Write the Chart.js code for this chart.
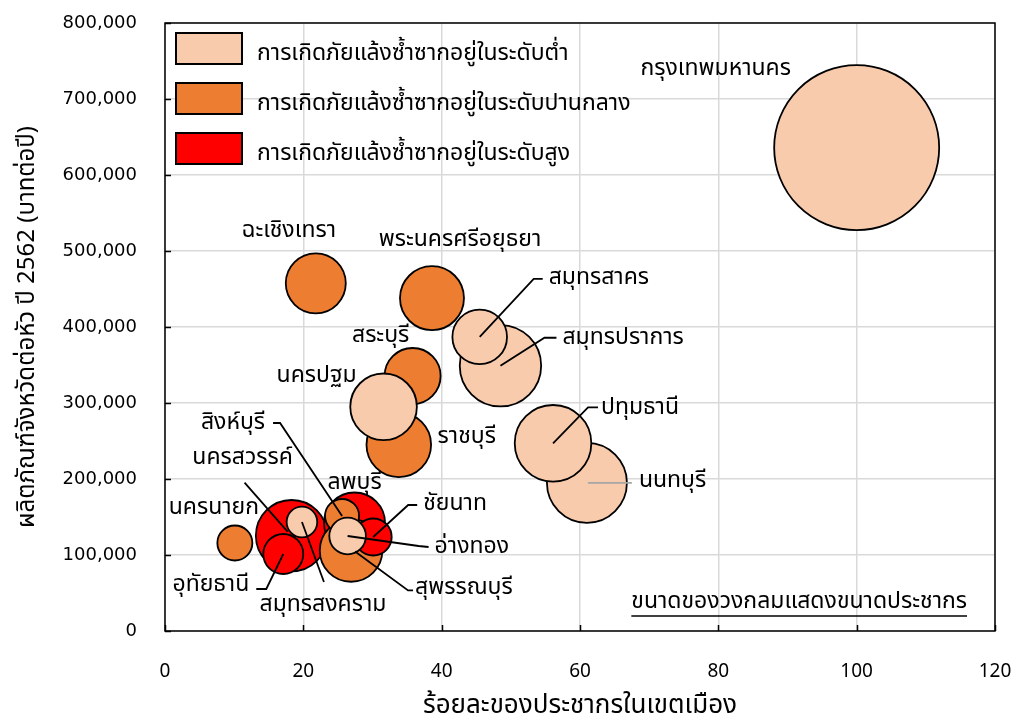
<!DOCTYPE html>
<html lang="th">
<head>
<meta charset="utf-8">
<title>ผลิตภัณฑ์จังหวัดต่อหัวและร้อยละของประชากรในเขตเมือง</title>
<script src="https://cdn.jsdelivr.net/npm/chart.js@4.4.1/dist/chart.umd.min.js"></script>
<style>
  html, body { margin: 0; padding: 0; background: #ffffff; }
  #wrap { width: 1018px; height: 724px; }
</style>
</head>
<body>
<div id="wrap"><canvas id="c" width="1018" height="724"></canvas></div>
<script>
// Provinces, in drawing order (later entries sit on top)
const provinces = [
  'นครสวรรค์', 'ลพบุรี', 'สุพรรณบุรี', 'สิงห์บุรี', 'ชัยนาท', 'อุทัยธานี', 'นครนายก',
  'ฉะเชิงเทรา', 'พระนครศรีอยุธยา', 'สระบุรี', 'ราชบุรี',
  'กรุงเทพมหานคร', 'สมุทรปราการ', 'สมุทรสาคร', 'นนทบุรี', 'ปทุมธานี', 'นครปฐม',
  'อ่างทอง', 'สมุทรสงคราม'
];
// Share of population living in urban areas (%)
const urbanPct = [
  18.3, 27.4, 26.9, 25.6, 30.1, 17.1, 10.1,
  21.8, 38.6, 35.8, 33.8,
  100.0, 48.5, 45.5, 61.0, 56.1, 31.6,
  26.4, 19.8
];
// Gross provincial product per capita, 2019 (baht per year)
const gppPerCapita = [
  125400, 142100, 106000, 151300, 123700, 101300, 115800,
  457500, 438000, 335500, 245000,
  636000, 349000, 387000, 195000, 247000, 295000,
  125000, 143400
];
// Population (thousand persons) -> bubble area
const population = [
  1062, 775, 816, 241, 285, 333, 255,
  750, 853, 653, 869,
  5670, 1380, 621, 1333, 1222, 924,
  279, 195
];
// Recurring drought level: 0 = low, 1 = medium, 2 = high
const droughtLevel = [
  2, 2, 1, 1, 2, 2, 1,
  1, 1, 1, 1,
  0, 0, 0, 0, 0, 0,
  0, 0
];
const levelNames = [
  'การเกิดภัยแล้งซ้ำซากอยู่ในระดับต่ำ',
  'การเกิดภัยแล้งซ้ำซากอยู่ในระดับปานกลาง',
  'การเกิดภัยแล้งซ้ำซากอยู่ในระดับสูง'
];
const xTicks = [0, 20, 40, 60, 80, 100, 120];
const yTicks = [0, 100000, 200000, 300000, 400000, 500000, 600000, 700000, 800000];

// ---- styling ----
const levelColors = ['#F8CBAD', '#ED7D31', '#FF0000'];
const FONT = '"Noto Sans Thai", "Leelawadee UI", Tahoma, "Noto Sans", "DejaVu Sans", sans-serif';
const LABEL_SIZE = 23;
const MAX_RADIUS = 82.5;   // pixel radius of the largest bubble
const maxPop = Math.max(...population);

// Label placement relative to each bubble centre (pixels); leader = polyline
const labelLayout = {
  'กรุงเทพมหานคร':   { dx: -141, dy: -77, align: 'center' },
  'ฉะเชิงเทรา':       { dx: -27, dy: -51, align: 'center' },
  'พระนครศรีอยุธยา': { dx: 28, dy: -57, align: 'center' },
  'สมุทรสาคร':       { dx: 69, dy: -58, align: 'left', leader: [[0, 0], [54, -58], [63, -58]] },
  'สมุทรปราการ':     { dx: 62, dy: -26, align: 'left', leader: [[0, 0], [44, -28], [56, -28]] },
  'สระบุรี':          { dx: -32, dy: -39, align: 'center' },
  'นครปฐม':          { dx: -67, dy: -29, align: 'center' },
  'ราชบุรี':          { dx: 68, dy: -6, align: 'center' },
  'ปทุมธานี':         { dx: 48, dy: -34, align: 'left', leader: [[0, 0], [35, -36], [45, -36]] },
  'นนทบุรี':          { dx: 52, dy: 0, align: 'left', leader: [[1, 0], [45, 0]], leaderColor: '#a6a6a6' },
  'สิงห์บุรี':         { dx: -77, dy: -92, align: 'right', leader: [[-69, -93], [-62, -93], [0, 0]] },
  'นครสวรรค์':       { dx: -49, dy: -76, align: 'center', leader: [[-47, -53], [-4, -4]] },
  'ลพบุรี':           { dx: 0, dy: -39, align: 'center' },
  'นครนายก':         { dx: -21, dy: -34, align: 'center' },
  'ชัยนาท':          { dx: 50, dy: -32, align: 'left', leader: [[0, 0], [35, -32], [44, -32]] },
  'อ่างทอง':          { dx: 87, dy: 12, align: 'left', leader: [[0, 0], [71, 10], [81, 11]] },
  'อุทัยธานี':         { dx: -34, dy: 32, align: 'right', leader: [[-27, 35], [-17, 35], [0, 0]] },
  'สมุทรสงคราม':     { dx: 21, dy: 84, align: 'center', leader: [[0, 0], [22, 60]] },
  'สุพรรณบุรี':        { dx: 64, dy: 39, align: 'left', leader: [[4, 1], [57, 40], [62, 40]] }
};

const points = provinces.map((name, i) => ({
  x: urbanPct[i],
  y: gppPerCapita[i],
  r: MAX_RADIUS * Math.sqrt(population[i] / maxPop),
  name
}));
const pointColors = droughtLevel.map(l => levelColors[l]);

// Frame, inward tick marks, province labels, legend and note
const decorations = {
  id: 'decorations',
  afterDatasetsDraw(chart) {
    const { ctx, chartArea: a, scales: { x, y } } = chart;
    ctx.save();

    // plot frame
    ctx.strokeStyle = '#000';
    ctx.lineWidth = 1.5;
    ctx.strokeRect(a.left, a.top, a.right - a.left, a.bottom - a.top);

    // tick marks pointing into the plot
    ctx.beginPath();
    yTicks.forEach(v => {
      const py = Math.round(y.getPixelForValue(v)) + 0.5;
      ctx.moveTo(a.left, py); ctx.lineTo(a.left + 6, py);
    });
    xTicks.forEach(v => {
      const px = Math.round(x.getPixelForValue(v)) + 0.5;
      ctx.moveTo(px, a.bottom); ctx.lineTo(px, a.bottom - 6);
    });
    ctx.stroke();

    // province labels with leader lines
    ctx.font = `${LABEL_SIZE}px ${FONT}`;
    ctx.textBaseline = 'middle';
    points.forEach(p => {
      const lay = labelLayout[p.name];
      if (!lay) return;
      const cx = x.getPixelForValue(p.x);
      const cy = y.getPixelForValue(p.y);
      if (lay.leader) {
        ctx.strokeStyle = lay.leaderColor || '#000';
        ctx.lineWidth = 1.8;
        ctx.beginPath();
        lay.leader.forEach(([lx, ly], k) => {
          if (k === 0) ctx.moveTo(cx + lx, cy + ly); else ctx.lineTo(cx + lx, cy + ly);
        });
        ctx.stroke();
      }
      ctx.fillStyle = '#000';
      ctx.textAlign = lay.align;
      ctx.fillText(p.name, cx + lay.dx, cy + lay.dy);
    });

    // legend
    ctx.textAlign = 'left';
    ctx.font = `${LABEL_SIZE}px ${FONT}`;
    levelNames.forEach((label, i) => {
      const bx = a.left + 11, by = a.top + 10 + i * 50;
      ctx.fillStyle = levelColors[i];
      ctx.fillRect(bx, by, 66, 31);
      ctx.strokeStyle = '#000';
      ctx.lineWidth = 2;
      ctx.strokeRect(bx, by, 66, 31);
      ctx.fillStyle = '#000';
      ctx.fillText(label, a.left + 92, by + 22);
    });

    // note on bubble size (underlined)
    const note = 'ขนาดของวงกลมแสดงขนาดประชากร';
    ctx.font = `${LABEL_SIZE}px ${FONT}`;
    ctx.textAlign = 'right';
    const nx = a.right - 28, ny = a.bottom - 28;
    ctx.fillText(note, nx, ny);
    const w = ctx.measureText(note).width;
    ctx.lineWidth = 1.3;
    ctx.beginPath();
    ctx.moveTo(nx - w, ny + 13); ctx.lineTo(nx, ny + 13);
    ctx.stroke();

    ctx.restore();
  }
};

new Chart(document.getElementById('c'), {
  type: 'bubble',
  data: {
    datasets: [{
      data: points,
      backgroundColor: pointColors,
      borderColor: '#000',
      borderWidth: 1.8,
      hoverBorderWidth: 1.8,
      hoverRadius: 0
    }]
  },
  options: {
    responsive: false,
    animation: false,
    events: [],
    layout: { autoPadding: false, padding: { left: 0, top: 23, right: 23, bottom: 0 } },
    plugins: { legend: { display: false }, tooltip: { enabled: false } },
    scales: {
      x: {
        type: 'linear', min: 0, max: 120,
        afterBuildTicks(s) { s.ticks = xTicks.map(v => ({ value: v })); },
        afterFit(s) { s.height = 93; s.paddingLeft = 0; s.paddingRight = 0; },
        ticks: { padding: 31, color: '#000', font: { family: FONT, size: 19 } },
        grid: { color: '#d9d9d9', lineWidth: 1.5, drawTicks: false },
        border: { display: false },
        title: {
          display: true, text: 'ร้อยละของประชากรในเขตเมือง', color: '#000',
          font: { family: FONT, size: 26 }, padding: { top: 0, bottom: 1 }
        }
      },
      y: {
        type: 'linear', min: 0, max: 800000,
        afterBuildTicks(s) { s.ticks = yTicks.map(v => ({ value: v })); },
        afterFit(s) { s.width = 165; s.paddingTop = 0; s.paddingBottom = 0; },
        ticks: {
          padding: 28, color: '#000',
          font: { family: '"DejaVu Sans", Verdana, sans-serif', size: 18 },
          callback: v => v.toLocaleString('en-US')
        },
        grid: { color: '#d9d9d9', lineWidth: 1.5, drawTicks: false },
        border: { display: false },
        title: {
          display: true, text: 'ผลิตภัณฑ์จังหวัดต่อหัว ปี 2562 (บาทต่อปี)', color: '#000',
          font: { family: FONT, size: 24 }, padding: { top: 15, bottom: 0 }
        }
      }
    }
  },
  plugins: [decorations]
});
</script>
</body>
</html>
